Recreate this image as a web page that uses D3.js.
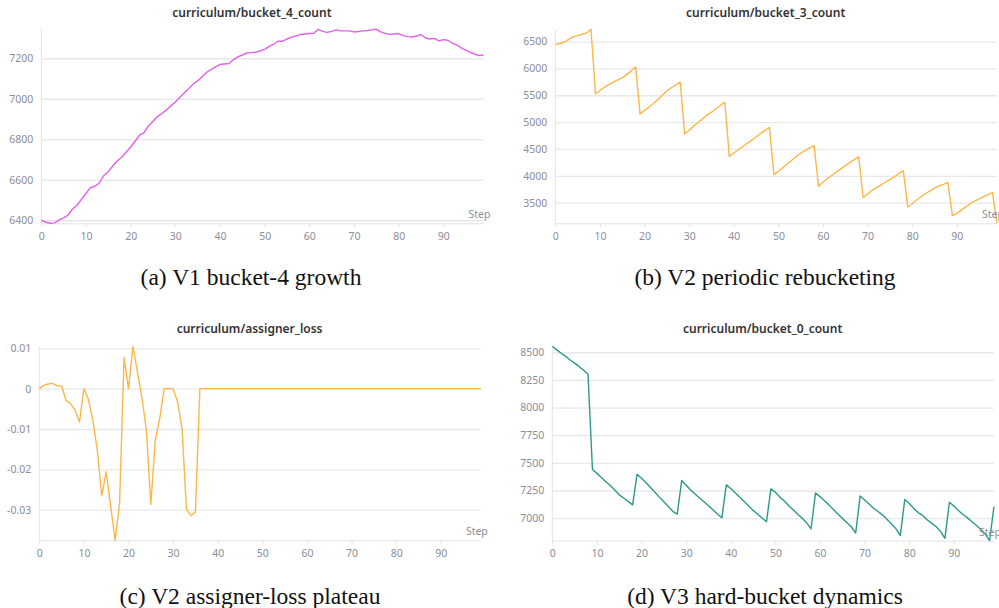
<!DOCTYPE html>
<html>
<head>
<meta charset="utf-8">
<script src="https://cdn.jsdelivr.net/npm/d3@7"></script>
<style>
  html, body { margin: 0; padding: 0; background: #ffffff; }
  svg { display: block; }
</style>
</head>
<body>
<svg id="chart" width="999" height="608"></svg>
<script>
// ---------------- DATA ----------------
const bucket4Count = [
  6400, 6390, 6385, 6387, 6402, 6412, 6426, 6456, 6474, 6504,
  6532, 6561, 6568, 6584, 6621, 6640, 6668, 6693, 6711, 6736,
  6762, 6790, 6820, 6833, 6866, 6889, 6912, 6927, 6945, 6965,
  6984, 7006, 7029, 7050, 7073, 7088, 7108, 7131, 7144, 7157,
  7169, 7172, 7174, 7193, 7207, 7216, 7226, 7228, 7230, 7236,
  7244, 7259, 7269, 7284, 7284, 7295, 7304, 7310, 7317, 7320,
  7322, 7323, 7343, 7333, 7328, 7333, 7340, 7335, 7335, 7335,
  7330, 7332, 7335, 7337, 7340, 7343, 7330, 7323, 7318, 7320,
  7322, 7312, 7307, 7305, 7310, 7317, 7300, 7295, 7298, 7286,
  7292, 7289, 7274, 7266, 7251, 7240, 7230, 7221, 7213, 7216
];
const bucket3Count = [
  6444, 6465, 6488, 6540, 6587, 6612, 6636, 6661, 6729,
  5527, 5590, 5650, 5700, 5745, 5785, 5825, 5885, 5955, 6029,
  5149, 5215, 5280, 5348, 5420, 5500, 5583, 5640, 5695, 5744,
  4778, 4850, 4925, 4994, 5060, 5131, 5185, 5250, 5310, 5372,
  4362, 4425, 4485, 4542, 4605, 4665, 4722, 4785, 4845, 4901,
  4022, 4080, 4150, 4220, 4290, 4360, 4420, 4470, 4520, 4562,
  3804, 3880, 3950, 4010, 4070, 4130, 4190, 4250, 4300, 4351,
  3593, 3660, 3730, 3780, 3830, 3880, 3930, 3980, 4040, 4096,
  3419, 3480, 3550, 3610, 3670, 3720, 3770, 3810, 3840, 3879,
  3258, 3300, 3360, 3420, 3480, 3530, 3570, 3610, 3650, 3686,
  3115
];
const assignerLoss = [
  0, 0.0008, 0.00115, 0.0013, 0.0007, 0.0007, -0.0029, -0.0037, -0.0053, -0.0083,
  0, -0.0027, -0.0078, -0.0152, -0.0265, -0.0206, -0.0292, -0.0376, -0.0284, 0.0077,
  0, 0.0105, 0.0041, -0.0021, -0.0103, -0.0287, -0.0128, -0.0074, 0, 0,
  0, -0.0033, -0.0099, -0.0300, -0.0315, -0.0306, 0, 0, 0, 0,
  0, 0, 0, 0, 0, 0, 0, 0, 0, 0,
  0, 0, 0, 0, 0, 0, 0, 0, 0, 0,
  0, 0, 0, 0, 0, 0, 0, 0, 0, 0,
  0, 0, 0, 0, 0, 0, 0, 0, 0, 0,
  0, 0, 0, 0, 0, 0, 0, 0, 0, 0,
  0, 0, 0, 0, 0, 0, 0, 0, 0, 0
];
const bucket0Count = [
  8554, 8522, 8491, 8463, 8430, 8402, 8372, 8338, 8304,
  7440, 7405, 7368, 7330, 7295, 7255, 7211, 7182, 7152, 7120,
  7398, 7360, 7320, 7278, 7235, 7190, 7148, 7105, 7062, 7036,
  7340, 7298, 7255, 7218, 7182, 7148, 7112, 7075, 7038, 7003,
  7301, 7268, 7230, 7190, 7150, 7110, 7070, 7038, 7002, 6967,
  7265, 7235, 7190, 7155, 7112, 7075, 7035, 7000, 6958, 6904,
  7228, 7195, 7158, 7120, 7078, 7038, 6998, 6960, 6922, 6866,
  7201, 7165, 7128, 7090, 7060, 7030, 6990, 6950, 6905, 6842,
  7168, 7132, 7090, 7050, 7025, 6985, 6955, 6925, 6880, 6817,
  7144, 7110, 7070, 7035, 7005, 6970, 6935, 6900, 6860, 6797,
  7105
];

const xTicks = [0, 10, 20, 30, 40, 50, 60, 70, 80, 90];
const yTicksA = [6400, 6600, 6800, 7000, 7200];
const yTicksB = [3500, 4000, 4500, 5000, 5500, 6000, 6500];
const yTicksC = [0.01, 0, -0.01, -0.02, -0.03];
const yTicksD = [7000, 7250, 7500, 7750, 8000, 8250, 8500];

const panelTitles = [
  "curriculum/bucket_4_count",
  "curriculum/bucket_3_count",
  "curriculum/assigner_loss",
  "curriculum/bucket_0_count"
];
const captions = [
  "(a) V1 bucket-4 growth",
  "(b) V2 periodic rebucketing",
  "(c) V2 assigner-loss plateau",
  "(d) V3 hard-bucket dynamics"
];
const xAxisLabel = "Step";

// ---------------- LAYOUT ----------------
const svg = d3.select("#chart");
const SANS = "'Source Sans Pro', 'Noto Sans', 'Open Sans', sans-serif";
const SERIF = "'Liberation Serif', 'Times New Roman', serif";

const fmtPlain = d => String(d);
const fmtLoss = d => d === 0 ? "0" : d3.format(".2f")(d).replace("\u2212", "-");

const panels = [
  { values: bucket4Count, ticks: yTicksA, fmt: fmtPlain, color: "#e35fe6",
    left: 41.3, right: 483.5, top: 29.3, bottom: 223.3, titleY: 16.5, capX: 251, capY: 285 },
  { values: bucket3Count, ticks: yTicksB, fmt: fmtPlain, color: "#fdb647",
    left: 555.3, right: 997, top: 29.3, bottom: 223.3, titleY: 16.5, capX: 765, capY: 285 },
  { values: assignerLoss, ticks: yTicksC, fmt: fmtLoss, color: "#fdb647",
    left: 39.3, right: 480.9, top: 346.3, bottom: 540.3, titleY: 332.5, capX: 250, capY: 603.5 },
  { values: bucket0Count, ticks: yTicksD, fmt: fmtPlain, color: "#2a9a8a",
    left: 552.3, right: 994, top: 346.3, bottom: 540.6, titleY: 332.5, capX: 765, capY: 603.5 }
];

panels.forEach((p, i) => {
  const data = p.values.map((v, k) => ({ step: k, v }));
  const x = d3.scaleLinear().domain([0, data.length - 1]).range([p.left, p.right]);
  const y = d3.scaleLinear().domain(d3.extent(p.values)).range([p.bottom, p.top]);
  const g = svg.append("g");

  // gridlines
  const yAxis = d3.axisLeft(y).tickValues(p.ticks).tickFormat(p.fmt)
    .tickSize(-(p.right - p.left)).tickPadding(8);
  const ya = g.append("g").attr("transform", `translate(${p.left},0)`).call(yAxis);
  ya.select(".domain").remove();
  ya.selectAll(".tick line").attr("stroke", "#e8e8ea").attr("stroke-width", 1.3);
  ya.selectAll(".tick text").attr("fill", "#8c8e97")
    .style("font-family", SANS).style("font-size", "10.5px");

  // left axis line
  g.append("line").attr("x1", p.left).attr("x2", p.left)
    .attr("y1", p.top).attr("y2", p.bottom + 0.5)
    .attr("stroke", "#e3e3e6").attr("stroke-width", 1);

  // x axis
  const xAxis = d3.axisBottom(x).tickValues(xTicks).tickSize(4).tickPadding(5);
  const xa = g.append("g").attr("transform", `translate(0,${p.bottom})`).call(xAxis);
  xa.select(".domain").attr("stroke", "#e3e3e6").attr("d", `M${p.left},0.5H${p.right}`);
  xa.selectAll(".tick line").attr("stroke", "#e3e3e6");
  xa.selectAll(".tick text").attr("fill", "#8c8e97")
    .style("font-family", SANS).style("font-size", "10.5px");

  // line
  const line = d3.line().x(d => x(d.step)).y(d => y(d.v));
  g.append("path").datum(data).attr("d", line)
    .attr("fill", "none").attr("stroke", p.color).attr("stroke-width", 1.4)
    .attr("stroke-linejoin", "round");

  // "Step" label
  g.append("text").attr("x", p.right - 15).attr("y", p.bottom - 5)
    .attr("fill", "#8c8e97").style("font-family", SANS).style("font-size", "10.5px")
    .text(xAxisLabel);

  // title
  g.append("text").attr("x", (p.left + p.right) / 2 - 10.5).attr("y", p.titleY)
    .attr("text-anchor", "middle").attr("fill", "#333333")
    .style("font-family", SANS).style("font-size", "12px").style("font-weight", 600)
    .text(panelTitles[i]);

  // caption
  svg.append("text").attr("x", p.capX).attr("y", p.capY)
    .attr("text-anchor", "middle").attr("fill", "#111111")
    .style("font-family", SERIF).style("font-size", "23.5px")
    .text(captions[i]);
});
</script>
</body>
</html>
